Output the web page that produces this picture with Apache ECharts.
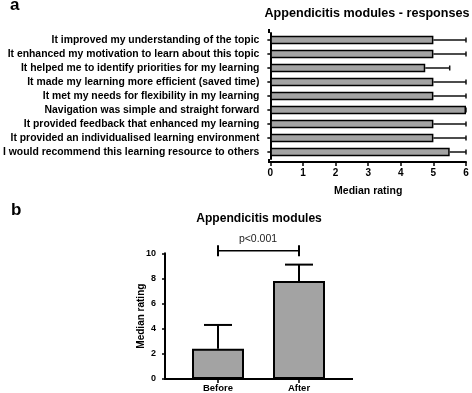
<!DOCTYPE html>
<html><head><meta charset="utf-8">
<script src="https://cdn.jsdelivr.net/npm/echarts@6/dist/echarts.min.js"></script>
<style>html,body{margin:0;padding:0;background:#fff}#c{width:472px;height:393px}</style>
</head><body><div id="c"></div>
<script>
// Panel a
const statements = [
  'It improved my understanding of the topic',
  'It enhanced my motivation to learn about this topic',
  'It helped me to identify priorities for my learning',
  'It made my learning more efficient (saved time)',
  'It met my needs for flexibility in my learning',
  'Navigation was simple and straight forward',
  'It provided feedback that enhanced my learning',
  'It provided an individualised learning environment',
  'I would recommend this learning resource to others'
];
const medianA = [5, 5, 4.75, 5, 5, 6, 5, 5, 5.5];
const upperA  = [6, 6, 5.5, 6, 6, 6, 6, 6, 6];
const xTicksA = [0, 1, 2, 3, 4, 5, 6];
// Panel b
const groupsB = ['Before', 'After'];
const medianB = [2.4, 7.8];
const upperB  = [4.3, 9.1];
const yTicksB = [0, 2, 4, 6, 8, 10];
const sigLevel = 10.2;
const sigText = 'p<0.001';

const FONT = "'Liberation Sans', Arial, Helvetica, sans-serif";
const BAR = '#a3a3a3';
const chart = echarts.init(document.getElementById('c'));

const axisLine = {show: true, lineStyle: {color: '#000', width: 2}};
const lbl = (size, extra) => Object.assign({color: '#000', fontWeight: 'bold', fontSize: size, fontFamily: FONT}, extra || {});

chart.setOption({
  animation: false,
  backgroundColor: '#fff',
  grid: [
    {left: 269, width: 197, top: 33, height: 126},
    {left: 177.5, width: 162, top: 253.3, height: 125.7}
  ],
  xAxis: [
    {gridIndex: 0, type: 'value', min: xTicksA[0], max: xTicksA[xTicksA.length - 1], interval: 1, offset: 3,
     axisLine: axisLine, axisTick: {show: true, length: 4, lineStyle: {color: '#000', width: 1.5}},
     axisLabel: lbl(10, {margin: 6}), splitLine: {show: false},
     name: 'Median rating', nameLocation: 'middle', nameGap: 24, nameTextStyle: lbl(10.5)},
    {gridIndex: 1, type: 'category', data: groupsB,
     axisLine: axisLine, axisTick: {show: true, alignWithLabel: true, length: 4, lineStyle: {color: '#000', width: 1.5}},
     axisLabel: lbl(9.5, {margin: 4})}
  ],
  yAxis: [
    {gridIndex: 0, type: 'category', data: statements, inverse: true,
     axisLine: axisLine, axisTick: {show: true, alignWithLabel: true, length: 3, lineStyle: {color: '#000', width: 1.5}},
     axisLabel: lbl(10.4, {margin: 11})},
    {gridIndex: 1, type: 'value', min: yTicksB[0], max: yTicksB[yTicksB.length - 1], interval: 2, offset: 12.5,
     axisLine: axisLine, axisTick: {show: true, length: 3, lineStyle: {color: '#000', width: 1.5}},
     axisLabel: lbl(9, {margin: 9}), splitLine: {show: false},
     name: 'Median rating', nameLocation: 'middle', nameGap: 19, nameMoveOverlap: false, nameRotate: 90, nameTextStyle: lbl(10)}
  ],
  series: [
    {type: 'bar', xAxisIndex: 0, yAxisIndex: 0, data: medianA, barWidth: 8.5,
     itemStyle: {color: BAR, borderColor: '#000', borderWidth: 1.5}, z: 3},
    {type: 'custom', xAxisIndex: 0, yAxisIndex: 0, z: 2,
     data: medianA.map((v, i) => [i, v, upperA[i]]),
     renderItem: (params, api) => {
       const p0 = api.coord([api.value(1), api.value(0)]);
       const p1 = api.coord([api.value(2), api.value(0)]);
       const st = {stroke: '#111', lineWidth: 1.5};
       return {type: 'group', children: [
         {type: 'line', shape: {x1: p0[0], y1: p0[1], x2: p1[0], y2: p1[1]}, style: st},
         {type: 'line', shape: {x1: p1[0], y1: p1[1] - 2.5, x2: p1[0], y2: p1[1] + 2.5}, style: st}
       ]};
     }},
    {type: 'bar', xAxisIndex: 1, yAxisIndex: 1, data: medianB, barWidth: 52,
     itemStyle: {color: BAR, borderColor: '#000', borderWidth: 2}, z: 3},
    {type: 'custom', xAxisIndex: 1, yAxisIndex: 1, z: 2,
     data: medianB.map((v, i) => [i, v, upperB[i]]),
     renderItem: (params, api) => {
       const p0 = api.coord([api.value(0), api.value(1)]);
       const p1 = api.coord([api.value(0), api.value(2)]);
       const st = {stroke: '#000', lineWidth: 2};
       return {type: 'group', children: [
         {type: 'line', shape: {x1: p0[0], y1: p0[1], x2: p1[0], y2: p1[1]}, style: st},
         {type: 'line', shape: {x1: p1[0] - 14, y1: p1[1], x2: p1[0] + 14, y2: p1[1]}, style: st}
       ]};
     }},
    {type: 'line', xAxisIndex: 1, yAxisIndex: 1, clip: false, z: 4,
     data: groupsB.map(g => [g, sigLevel]),
     symbol: 'rect', symbolSize: [2, 11], showSymbol: true,
     itemStyle: {color: '#000'}, lineStyle: {color: '#000', width: 1.5}}
  ],
  graphic: [
    {type: 'text', x: 10, y: -3, style: {text: 'a', font: 'bold 17px ' + FONT, fill: '#000'}},
    {type: 'text', x: 11, y: 202, style: {text: 'b', font: 'bold 17px ' + FONT, fill: '#000'}},
    {type: 'text', x: 367, y: 14, style: {text: 'Appendicitis modules - responses', font: 'bold 12.6px ' + FONT, fill: '#000', align: 'center', verticalAlign: 'middle'}},
    {type: 'text', x: 259, y: 219, style: {text: 'Appendicitis modules', font: 'bold 12.1px ' + FONT, fill: '#000', align: 'center', verticalAlign: 'middle'}},
    {type: 'text', x: 258, y: 239, style: {text: sigText, font: '10.5px ' + FONT, fill: '#222', align: 'center', verticalAlign: 'middle'}},
    // axis line extensions (axis frame beyond the category bands)
    {type: 'line', shape: {x1: 269, y1: 29, x2: 269, y2: 33}, style: {stroke: '#000', lineWidth: 2}},
    {type: 'line', shape: {x1: 269, y1: 159, x2: 269, y2: 163}, style: {stroke: '#000', lineWidth: 2}},
    {type: 'line', shape: {x1: 164, y1: 379, x2: 178, y2: 379}, style: {stroke: '#000', lineWidth: 2}},
    {type: 'line', shape: {x1: 339, y1: 379, x2: 353, y2: 379}, style: {stroke: '#000', lineWidth: 2}}
  ]
});
</script></body></html>
